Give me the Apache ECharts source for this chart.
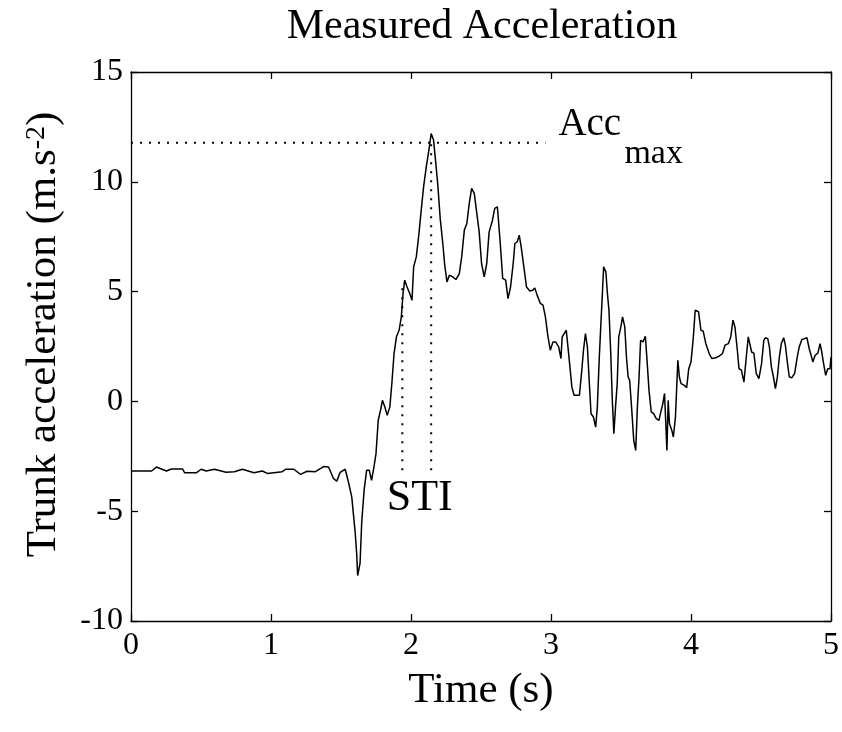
<!DOCTYPE html>
<html>
<head>
<meta charset="utf-8">
<script src="https://cdn.jsdelivr.net/npm/echarts@6/dist/echarts.min.js"></script>
<style>
html,body{margin:0;padding:0;background:#fff;}
#c{width:842px;height:732px;}
</style>
</head>
<body>
<div id="c"></div>
<script>
// ---- data ----
const timeS = [
 0.000,0.147,0.182,0.253,0.289,0.369,0.383,0.466,0.501,0.537,0.596,0.679,0.738,0.796,0.879,0.938,0.974,
 1.080,1.104,1.163,1.211,1.257,1.317,1.376,1.411,1.447,1.470,1.494,1.530,1.553,1.577,1.601,1.612,1.619,
 1.636,1.648,1.665,1.683,1.702,1.718,1.735,1.750,1.766,1.782,1.796,1.813,1.830,1.849,1.865,1.879,1.896,
 1.915,1.931,1.943,1.955,1.972,1.991,2.007,2.019,2.038,2.057,2.073,2.090,2.109,2.128,2.144,2.161,2.175,
 2.191,2.209,2.227,2.241,2.257,2.274,2.298,2.321,2.345,2.362,2.381,2.399,2.416,2.433,2.452,2.470,2.487,
 2.504,2.523,2.541,2.558,2.582,2.598,2.617,2.636,2.655,2.676,2.693,2.711,2.730,2.742,2.759,2.773,2.787,
 2.806,2.825,2.849,2.870,2.884,2.901,2.924,2.943,2.960,2.977,2.995,3.014,3.033,3.055,3.071,3.080,3.094,
 3.109,3.121,3.133,3.149,3.165,3.203,3.220,3.232,3.246,3.260,3.274,3.286,3.303,3.319,3.331,3.345,3.357,
 3.367,3.376,3.392,3.402,3.414,3.426,3.438,3.449,3.461,3.473,3.484,3.499,3.511,3.527,3.539,3.551,3.562,
 3.577,3.591,3.605,3.617,3.629,3.640,3.657,3.674,3.686,3.700,3.716,3.733,3.752,3.771,3.787,3.799,3.811,
 3.818,3.828,3.837,3.846,3.863,3.874,3.889,3.906,3.917,3.929,3.953,3.969,3.984,4.000,4.016,4.030,4.054,
 4.071,4.087,4.106,4.130,4.149,4.177,4.201,4.225,4.243,4.267,4.284,4.300,4.314,4.331,4.343,4.360,4.378,
 4.395,4.409,4.421,4.433,4.449,4.466,4.485,4.504,4.520,4.532,4.548,4.560,4.574,4.589,4.603,4.617,4.631,
 4.645,4.662,4.674,4.688,4.702,4.721,4.740,4.757,4.773,4.792,4.811,4.828,4.844,4.858,4.870,4.887,4.906,
 4.922,4.934,4.945,4.962,4.977,4.993,5.000
];
const accel = [
 -3.17,-3.17,-2.99,-3.17,-3.08,-3.08,-3.25,-3.25,-3.09,-3.17,-3.09,-3.23,-3.20,-3.09,-3.25,-3.17,-3.28,
 -3.20,-3.09,-3.09,-3.32,-3.18,-3.20,-2.97,-2.99,-3.52,-3.63,-3.23,-3.09,-3.67,-4.36,-5.95,-6.94,-7.93,
 -7.38,-5.50,-4.05,-3.14,-3.14,-3.60,-3.00,-2.38,-0.86,-0.41,0.05,-0.25,-0.63,-0.25,0.96,2.18,2.94,
 3.24,3.85,4.91,5.52,5.21,4.91,4.60,6.13,6.58,7.65,8.71,9.77,10.68,11.44,12.20,11.90,10.99,
 9.90,8.30,7.20,6.20,5.44,5.75,5.67,5.55,5.82,6.58,7.80,8.10,9.02,9.70,9.47,8.56,7.72,
 6.28,5.67,6.28,7.72,8.25,8.79,8.86,7.34,5.60,5.52,4.68,5.21,6.28,7.19,7.27,7.57,7.04,
 6.13,5.21,5.03,5.06,5.17,4.84,4.46,4.38,3.85,3.01,2.33,2.71,2.71,2.48,1.95,2.94,2.97,
 3.24,2.48,1.72,0.66,0.28,0.28,1.42,2.33,3.09,2.48,0.81,-0.56,-0.71,-1.17,-0.25,2.02,3.62,
 4.91,6.13,5.90,4.99,4.15,2.33,0.05,-1.47,-0.25,0.81,2.94,3.39,3.85,3.39,2.02,1.11,0.96,
 -0.41,-1.77,-2.23,-0.25,1.11,2.78,2.71,2.97,1.87,0.50,-0.48,-0.56,-0.78,-0.86,-0.41,-0.10,0.36,
 -0.71,-2.23,0.05,-1.01,-1.32,-1.62,-0.71,1.87,1.11,0.81,0.73,0.62,1.49,1.80,2.86,4.15,4.08,
 3.24,3.20,2.63,2.18,1.95,1.99,2.06,2.18,2.56,2.63,2.94,3.70,3.39,2.33,1.49,1.42,0.88,
 2.02,2.94,2.95,2.25,2.20,1.27,1.04,1.72,2.78,2.90,2.86,2.48,1.57,1.11,0.58,1.11,2.02,
 2.63,2.90,2.56,1.80,1.11,1.08,1.27,1.95,2.48,2.82,2.86,2.90,2.41,2.10,1.80,2.10,2.20,
 2.63,2.25,1.80,1.19,1.49,1.49,2.02
];
// annotation values
const accMaxLevel = 11.78;
const accMaxLineT = [0, 2.96];
const stiT = [1.938, 2.144];
const stiBottom = -3.14;
const stiTop = [5.38, 11.9];
const xRange = [0, 5], xStep = 1;
const yRange = [-10, 15], yStep = 5;

const titleText = 'Measured Acceleration';
const xName = 'Time (s)';

// ---- chart ----
const FONT = 'Liberation Serif';
const chart = echarts.init(document.getElementById('c'), null, {renderer: 'canvas'});
const mainData = timeS.map((t, i) => [t, accel[i]]);
const dotStyle = {color: '#000', width: 2, type: [2, 7]};

function axis(extra) {
  return Object.assign({
    type: 'value',
    axisLine: {show: true, onZero: false, lineStyle: {color: '#000', width: 1.3}},
    axisTick: {show: true, inside: true, length: 7, lineStyle: {color: '#000', width: 1.3}},
    splitLine: {show: false},
    axisLabel: {color: '#000', fontFamily: FONT, fontSize: 32}
  }, extra);
}

chart.setOption({
  animation: false,
  backgroundColor: '#fff',
  title: {
    text: titleText, left: 477, top: 1, textAlign: 'center',
    textStyle: {fontFamily: FONT, fontSize: 42, fontWeight: 'normal', color: '#000'}
  },
  grid: {left: 131, right: 6, top: 72, bottom: 111, show: false},
  xAxis: [
    axis({min: xRange[0], max: xRange[1], interval: xStep, position: 'bottom',
      axisLabel: {color: '#000', fontFamily: FONT, fontSize: 32, margin: 9},
      name: xName, nameLocation: 'middle', nameGap: 48,
      nameTextStyle: {fontFamily: FONT, fontSize: 43, color: '#000'}}),
    axis({min: xRange[0], max: xRange[1], interval: xStep, position: 'top', axisLabel: {show: false}})
  ],
  yAxis: [
    axis({min: yRange[0], max: yRange[1], interval: yStep, position: 'left',
      axisLabel: {color: '#000', fontFamily: FONT, fontSize: 32, margin: 8}}),
    axis({min: yRange[0], max: yRange[1], interval: yStep, position: 'right', axisLabel: {show: false}})
  ],
  series: [
    {type: 'line', data: mainData, showSymbol: false, symbol: 'none',
     lineStyle: {color: '#000', width: 1.5}, z: 3},
    {type: 'line', data: accMaxLineT.map(t => [t, accMaxLevel]), symbol: 'none', lineStyle: dotStyle, z: 2},
    {type: 'line', data: [[stiT[0], stiBottom], [stiT[0], stiTop[0]]], symbol: 'none', lineStyle: dotStyle, z: 2},
    {type: 'line', data: [[stiT[1], stiBottom], [stiT[1], stiTop[1]]], symbol: 'none', lineStyle: dotStyle, z: 2}
  ]
});

// annotations positioned via the chart's own scales
const pAcc = chart.convertToPixel({gridIndex: 0}, [accMaxLineT[1], accMaxLevel]);
const pSti = chart.convertToPixel({gridIndex: 0}, [(stiT[0] + stiT[1]) / 2, stiBottom]);
const pMid = chart.convertToPixel({gridIndex: 0}, [0, (yRange[0] + yRange[1]) / 2]);

chart.setOption({
  graphic: [
    {type: 'text', left: pAcc[0] + 13, top: pAcc[1] - 37,
     style: {text: 'Acc', font: '39px "Liberation Serif"', fill: '#000'}},
    {type: 'text', left: pAcc[0] + 79, top: pAcc[1] - 6,
     style: {text: 'max', font: '34px "Liberation Serif"', fill: '#000'}},
    {type: 'text', x: pSti[0] + 3, y: pSti[1] + 28,
     style: {text: 'STI', font: '44px "Liberation Serif"', fill: '#000', align: 'center', verticalAlign: 'middle'}},
    {type: 'text', x: 44, y: pMid[1] - 12, rotation: Math.PI / 2,
     style: {
       text: '{a|Trunk acceleration (m.s}{s|-2}{a|)}',
       align: 'center', verticalAlign: 'middle', fill: '#000',
       rich: {
         a: {fontFamily: FONT, fontSize: 43, color: '#000'},
         s: {fontFamily: FONT, fontSize: 28, color: '#000', verticalAlign: 'top'}
       }
     }}
  ]
});
</script>
</body>
</html>
